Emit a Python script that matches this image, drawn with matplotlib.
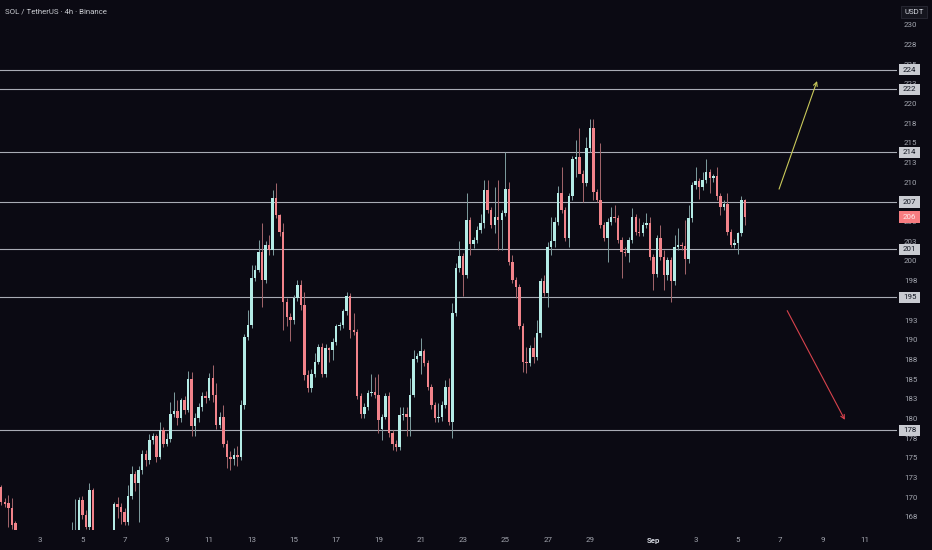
import matplotlib
matplotlib.use("Agg")
import matplotlib.pyplot as plt
import matplotlib.transforms as mtransforms
from matplotlib.patches import Rectangle
import numpy as np

plt.rcParams['font.family'] = ['Roboto', 'DejaVu Sans']

# 4h candles, SOL/USDT, from Aug 1 00:00 (6 per day)
opens = [
    173.5, 171.3, 169.4, 169.2, 168.6, 166.7,
    165.0, 163.2, 162.0, 162.9, 162.4, 160.9,
    161.8, 161.3, 159.5, 161.2, 162.4, 162.1,
    163.4, 164.1, 163.3, 164.2, 165.1, 165.8,
    169.6, 167.7, 166.2, 170.9, 164.5, 163.6,
    164.2, 163.1, 163.9, 164.8, 169.1, 168.7,
    168.1, 166.8, 170.1, 172.9, 171.8, 173.4,
    175.5, 174.7, 177.3, 177.7, 175.1, 178.5,
    176.8, 177.4, 180.6, 180.9, 180.0, 182.3,
    181.1, 185.0, 179.0, 180.0, 181.5, 182.8,
    182.6, 185.1, 183.0, 179.2, 180.2, 176.8,
    175.1, 174.9, 175.4, 175.1, 181.7, 190.4,
    191.9, 197.8, 198.9, 201.1, 197.6, 202.0,
    201.4, 208.0, 205.9, 203.7, 194.8, 192.9,
    192.5, 195.3, 197.0, 194.4, 185.5, 183.8,
    185.7, 187.2, 189.1, 185.7, 188.9, 188.7,
    189.7, 191.7, 191.9, 193.6, 195.5, 191.2,
    191.0, 182.8, 180.6, 181.5, 183.2, 183.3,
    183.0, 178.6, 180.2, 182.8, 178.1, 176.8,
    176.4, 180.4, 180.6, 180.2, 183.0, 187.6,
    187.9, 188.5, 187.0, 184.0, 181.7, 180.0,
    180.2, 181.7, 184.0, 179.6, 193.4, 199.1,
    200.6, 198.2, 205.2, 202.2, 202.7, 204.0,
    204.8, 209.0, 206.5, 204.6, 205.6, 205.2,
    206.1, 209.2, 199.9, 197.6, 196.7, 191.7,
    187.2, 187.0, 188.9, 187.8, 190.8, 197.4,
    195.9, 201.8, 202.5, 205.0, 208.6, 206.5,
    202.9, 208.2, 213.0, 213.2, 211.1, 209.9,
    214.3, 216.9, 208.8, 207.8, 204.6, 202.9,
    205.0, 205.6, 205.4, 202.7, 201.2, 201.0,
    202.7, 205.6, 203.7, 203.5, 204.6, 204.8,
    200.5, 198.4, 202.9, 200.5, 198.2, 200.1,
    197.4, 201.8, 202.0, 201.9, 200.3, 205.4,
    209.6, 210.1, 209.4, 210.3, 211.3, 210.5,
    210.8, 208.2, 206.9, 207.3, 203.7, 202.0,
    202.3, 203.5, 207.7,
]
highs = [
    174.2, 171.6, 169.9, 170.3, 169.9, 167.0,
    165.3, 164.0, 163.4, 163.8, 163.1, 162.3,
    162.9, 162.0, 161.6, 162.8, 163.5, 163.9,
    164.6, 164.9, 164.7, 166.8, 169.8, 170.0,
    170.1, 168.4, 171.8, 171.2, 165.2, 164.8,
    165.0, 164.4, 165.3, 169.4, 170.0, 169.3,
    168.6, 171.5, 174.0, 173.3, 174.0, 176.0,
    176.0, 178.0, 178.1, 178.0, 179.6, 178.9,
    178.2, 182.1, 183.4, 182.3, 182.6, 182.9,
    186.0, 185.9, 180.7, 182.0, 183.4, 183.5,
    185.8, 186.8, 184.5, 180.8, 181.7, 177.2,
    175.9, 176.3, 176.5, 182.3, 190.7, 193.8,
    199.5, 199.5, 202.7, 204.8, 202.5, 203.3,
    209.0, 209.9, 206.0, 204.8, 195.3, 193.4,
    195.7, 197.6, 197.6, 196.1, 186.2, 186.3,
    188.3, 189.5, 189.6, 189.5, 189.1, 190.2,
    192.0, 192.3, 193.9, 196.0, 195.9, 193.4,
    191.4, 183.2, 181.9, 183.6, 185.7, 185.3,
    185.7, 180.6, 183.2, 183.3, 178.5, 177.2,
    181.4, 181.5, 181.4, 185.1, 188.7, 188.3,
    190.2, 188.8, 187.4, 184.4, 182.1, 181.9,
    182.2, 184.9, 185.1, 194.6, 199.7, 202.5,
    201.0, 208.6, 205.6, 203.1, 204.4, 206.0,
    210.3, 210.3, 206.9, 209.4, 210.3, 206.5,
    213.9, 210.0, 200.8, 198.0, 197.1, 192.1,
    189.1, 189.3, 190.4, 192.5, 197.8, 198.2,
    202.4, 205.6, 205.6, 209.5, 212.0, 206.9,
    208.6, 213.3, 215.4, 216.9, 211.5, 215.8,
    218.1, 218.1, 209.2, 215.0, 205.0, 205.4,
    206.9, 207.1, 205.8, 203.1, 201.8, 203.1,
    206.7, 206.0, 205.4, 205.0, 206.1, 205.6,
    200.9, 203.3, 204.6, 201.4, 200.5, 200.5,
    203.3, 204.2, 202.4, 205.2, 207.1, 210.0,
    212.0, 210.5, 211.3, 213.0, 211.7, 211.1,
    212.0, 208.6, 207.7, 208.6, 204.1, 202.8,
    203.7, 208.3, 207.9,
]
lows = [
    171.0, 169.0, 168.8, 166.2, 166.0, 164.8,
    162.8, 161.5, 160.8, 161.9, 160.2, 159.8,
    160.9, 158.7, 158.9, 160.6, 161.7, 161.5,
    162.8, 162.9, 162.6, 163.8, 164.9, 165.3,
    167.2, 165.9, 165.8, 163.9, 162.9, 162.5,
    162.7, 162.4, 163.2, 164.3, 167.3, 166.6,
    166.4, 166.5, 169.8, 170.8, 166.8, 172.9,
    174.0, 174.2, 176.8, 174.5, 174.8, 176.4,
    176.5, 177.0, 180.2, 179.1, 179.6, 180.6,
    180.8, 177.7, 177.7, 179.6, 181.0, 182.0,
    182.3, 182.1, 178.7, 178.8, 176.4, 173.7,
    173.4, 174.1, 173.9, 174.7, 181.2, 189.9,
    191.5, 197.4, 198.6, 194.2, 197.2, 200.8,
    200.8, 205.5, 203.2, 191.2, 191.7, 189.8,
    192.0, 194.9, 193.8, 184.9, 183.4, 183.4,
    185.3, 186.9, 185.3, 185.3, 187.2, 187.4,
    189.3, 191.2, 191.5, 193.2, 190.2, 190.6,
    182.5, 180.0, 180.0, 181.1, 182.8, 182.6,
    178.1, 177.3, 179.9, 177.6, 176.0, 175.8,
    176.0, 179.8, 177.7, 177.7, 182.7, 187.2,
    185.7, 186.6, 183.6, 181.2, 179.6, 179.5,
    179.7, 181.3, 179.2, 177.5, 193.0, 198.6,
    195.5, 197.9, 200.8, 201.6, 202.3, 203.6,
    204.2, 206.1, 204.2, 203.5, 201.4, 201.4,
    205.7, 199.5, 197.2, 195.3, 191.3, 185.9,
    185.8, 186.6, 187.0, 187.4, 190.4, 195.5,
    194.1, 200.8, 201.8, 204.6, 206.1, 202.5,
    201.8, 207.8, 210.7, 212.8, 207.5, 209.5,
    213.9, 207.7, 207.5, 204.2, 202.5, 199.9,
    204.6, 205.0, 202.3, 197.8, 200.6, 199.9,
    202.3, 203.3, 203.2, 203.2, 204.2, 200.1,
    196.3, 198.0, 200.1, 196.3, 197.6, 194.8,
    197.0, 201.4, 201.4, 198.4, 199.7, 205.0,
    209.2, 207.9, 209.0, 209.9, 208.6, 210.0,
    207.8, 205.8, 206.5, 203.3, 201.8, 201.6,
    200.9, 203.2, 204.6,
]
closes = [
    171.3, 169.4, 169.1, 168.6, 166.5, 165.0,
    163.2, 162.0, 162.9, 162.4, 160.9, 161.8,
    161.3, 159.5, 161.2, 162.4, 162.1, 163.4,
    164.1, 163.3, 164.2, 165.1, 165.8, 169.6,
    167.7, 166.2, 170.9, 164.5, 163.6, 164.2,
    163.1, 163.9, 164.8, 169.1, 168.7, 168.1,
    166.8, 170.1, 172.9, 171.8, 173.4, 175.5,
    174.7, 177.3, 177.7, 175.1, 178.5, 176.8,
    177.4, 180.6, 180.9, 180.0, 182.3, 181.1,
    185.0, 179.0, 180.0, 181.5, 182.8, 182.6,
    185.1, 183.0, 179.2, 180.2, 176.8, 175.1,
    174.9, 175.4, 175.1, 181.7, 190.4, 191.9,
    197.8, 198.9, 201.1, 197.6, 202.0, 201.4,
    208.0, 205.9, 203.7, 194.8, 192.9, 192.5,
    195.3, 197.0, 194.4, 185.5, 183.8, 185.7,
    187.2, 189.1, 185.7, 188.9, 188.7, 189.7,
    191.7, 191.9, 193.6, 195.5, 191.2, 191.0,
    182.8, 180.6, 181.5, 183.2, 183.3, 183.0,
    179.8, 180.2, 182.8, 178.1, 176.8, 176.4,
    180.4, 180.6, 180.2, 183.0, 187.6, 187.9,
    188.5, 187.0, 184.0, 181.7, 180.0, 180.2,
    181.7, 184.0, 179.6, 193.4, 199.1, 200.6,
    198.2, 205.2, 202.2, 202.7, 204.0, 204.8,
    209.0, 206.5, 204.6, 205.6, 205.2, 206.1,
    209.2, 199.9, 197.6, 196.7, 191.7, 187.2,
    187.0, 188.9, 187.8, 190.8, 197.4, 195.9,
    201.8, 202.5, 205.0, 208.6, 206.5, 202.9,
    208.2, 213.0, 213.2, 211.1, 209.9, 214.3,
    216.9, 208.8, 207.8, 204.6, 202.9, 205.0,
    205.6, 205.4, 202.7, 201.2, 201.0, 202.7,
    205.6, 203.7, 203.5, 204.6, 204.8, 200.5,
    198.4, 202.9, 200.5, 198.2, 200.1, 197.4,
    201.8, 202.0, 201.9, 200.3, 205.4, 209.6,
    210.1, 209.4, 210.3, 211.3, 210.5, 210.8,
    208.2, 206.9, 207.3, 203.7, 202.0, 202.3,
    203.5, 207.7, 205.6,
]

# horizontal levels drawn on the chart
levels = [224.3, 221.8, 213.8, 207.5, 201.5, 195.4, 178.5]
level_labels = ["224", "222", "214", "207", "201", "195", "178"]
last_price = 205.6
last_label = "206"

# price scale ticks (the ones hidden under level boxes left out)
price_ticks = [167.5, 170, 172.5, 175, 177.5, 180, 182.5, 185, 187.5, 190,
               192.5, 197.5, 200, 202.5, 205, 210, 212.5, 215,
               217.5, 220, 222.5, 225, 227.5, 230]
price_tick_labels = ["168", "170", "173", "175", "178", "180", "183", "185",
                     "188", "190", "193", "198", "200", "203", "205",
                     "210", "213", "215", "218", "220", "223", "225",
                     "228", "230"]

# time axis: candle index of each date label
date_ticks = [12, 24, 36, 48, 60, 72, 84, 96, 108, 120, 132, 144, 156, 168,
              186, 198, 210, 222, 234, 246]
date_labels = ["3", "5", "7", "9", "11", "13", "15", "17", "19", "21", "23",
               "25", "27", "29", "Sep", "3", "5", "7", "9", "11"]

# projection arrows (candle index, price)
up_arrow = [(221.4, 208.8), (232.7, 223.2)]
down_arrow = [(223.6, 194.0), (240.7, 179.5)]

BG = '#0b0a13'
UP = '#b4ece6'
DOWN = '#f2838a'
UP_WICK = '#7f9ea0'
DOWN_WICK = '#a4666c'
LEVEL = '#a9acb5'
TXT = '#a3a6af'

W, H = 932, 550
fig = plt.figure(figsize=(W / 100, H / 100), dpi=100, facecolor=BG)
ax = fig.add_axes([0, 20 / H, 897 / W, 530 / H])
ax.set_facecolor(BG)
for s in ax.spines.values():
    s.set_visible(False)

o = np.array(opens)
c = np.array(closes)
hi = np.array(highs)
lo = np.array(lows)
idx = np.arange(len(c))
up = c >= o

ax.vlines(idx, lo, hi, colors=np.where(up, UP_WICK, DOWN_WICK), linewidth=0.7, zorder=3)
ax.bar(idx, np.maximum(np.abs(c - o), 0.12), bottom=np.minimum(o, c), width=0.7,
       color=np.where(up, UP, DOWN), linewidth=0, zorder=4)

for lv in levels:
    ax.axhline(lv, color=LEVEL, linewidth=0.8, zorder=2)

ax.annotate("", xy=up_arrow[1], xytext=up_arrow[0],
            arrowprops=dict(arrowstyle="->", color='#c9c95a', lw=0.8, mutation_scale=7))
ax.annotate("", xy=down_arrow[1], xytext=down_arrow[0],
            arrowprops=dict(arrowstyle="->", color='#d8434d', lw=0.8, mutation_scale=7))

ax.set_xlim(0.65, 0.65 + 897 / 3.525)
ax.set_ylim(165.82, 233.16)

ax.yaxis.tick_right()
ax.set_yticks(price_ticks)
ax.set_yticklabels(price_tick_labels)
ax.tick_params(axis='y', length=0, pad=5, labelsize=5.7, labelcolor=TXT)
ax.set_xticks(date_ticks)
ax.set_xticklabels(date_labels)
ax.tick_params(axis='x', length=0, pad=5, labelsize=5.7, labelcolor=TXT)
for lab in ax.get_xticklabels():
    if lab.get_text() == "Sep":
        lab.set_color('#d1d4dc')
        lab.set_fontweight('bold')

# level boxes on the price scale
blend = mtransforms.blended_transform_factory(fig.transFigure, ax.transData)
for lv, lb in zip(levels, level_labels):
    ax.add_patch(Rectangle((899 / W, lv - 0.72), 21 / W, 1.44, transform=blend,
                           facecolor='#c9cbd1', edgecolor='none', clip_on=False, zorder=10))
    ax.text(909.5 / W, lv, lb, transform=blend, ha='center', va='center',
            fontsize=5.7, color='#131722', clip_on=False, zorder=11)
ax.add_patch(Rectangle((899 / W, last_price - 0.72), 21 / W, 1.44, transform=blend,
                       facecolor='#f77c80', edgecolor='none', clip_on=False, zorder=10))
ax.text(909.5 / W, last_price, last_label, transform=blend, ha='center', va='center',
        fontsize=5.7, color='#fde8e9', clip_on=False, zorder=11)

fig.text(914 / W, 1 - 12 / H, "USDT", ha='center', va='center', fontsize=5.7,
         color='#d1d4dc',
         bbox=dict(boxstyle='square,pad=0.4', fc='#15151e', ec='#2a2a35', lw=0.6))
fig.text(5 / W, 1 - 11 / H, "SOL / TetherUS · 4h · Binance", ha='left', va='center',
         fontsize=5.7, color='#c8cad0')

fig.savefig("out.png", dpi=100, facecolor=BG)
